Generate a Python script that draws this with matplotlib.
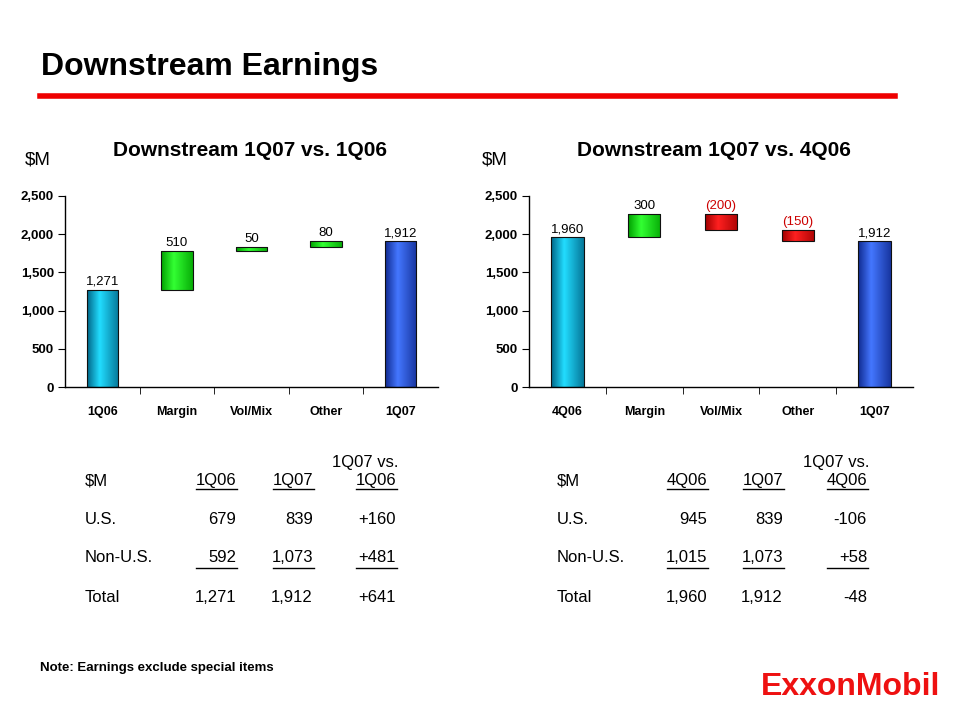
import numpy as np
import matplotlib
matplotlib.use("Agg")
import matplotlib.pyplot as plt
from matplotlib.lines import Line2D

plt.rcParams['font.family'] = ['Liberation Sans', 'DejaVu Sans']

# waterfall data ($M)
cats_l = ["1Q06", "Margin", "Vol/Mix", "Other", "1Q07"]
start_l = 1271
deltas_l = [510, 50, 80]
end_l = 1912

cats_r = ["4Q06", "Margin", "Vol/Mix", "Other", "1Q07"]
start_r = 1960
deltas_r = [300, -200, -150]
end_r = 1912

yticks = [0, 500, 1000, 1500, 2000, 2500]

# tables
tbl_rows = ["U.S.", "Non-U.S.", "Total"]
tbl_l_cols = ["1Q06", "1Q07", "1Q06"]
tbl_l_vals = [["679", "839", "+160"],
              ["592", "1,073", "+481"],
              ["1,271", "1,912", "+641"]]
tbl_r_cols = ["4Q06", "1Q07", "4Q06"]
tbl_r_vals = [["945", "839", "-106"],
              ["1,015", "1,073", "+58"],
              ["1,960", "1,912", "-48"]]

W, H = 960, 720
fig = plt.figure(figsize=(9.6, 7.2), dpi=100)


def fx(x):
    return x / W


def fy(y):
    return 1 - y / H


def shade(ax, patch, light, dark):
    # horizontal gradient to mimic the 3D bars
    t = np.linspace(0, 1, 64)
    k = np.interp(t, [0, 0.4, 1], [0, 1, 0.15])
    light = np.array(matplotlib.colors.to_rgb(light))
    dark = np.array(matplotlib.colors.to_rgb(dark))
    img = dark[None, :] + k[:, None] * (light - dark)[None, :]
    img = img[None, :, :]
    x0, y0 = patch.get_x(), patch.get_y()
    w, h = patch.get_width(), patch.get_height()
    im = ax.imshow(img, extent=(x0, x0 + w, y0, y0 + h), aspect='auto',
                   zorder=2, interpolation='bilinear')
    im.set_clip_path(patch)


def waterfall(ax, cats, start, deltas, end):
    x = np.arange(len(cats))
    bottoms, heights, cols = [0], [start], [("#22DDFF", "#006688")]
    run = start
    for d in deltas:
        if d >= 0:
            bottoms.append(run)
            heights.append(d)
            cols.append(("#33FF33", "#00A000"))
        else:
            bottoms.append(run + d)
            heights.append(-d)
            cols.append(("#FF2020", "#A00000"))
        run += d
    bottoms.append(0)
    heights.append(end)
    cols.append(("#4477FF", "#102A90"))
    bars = ax.bar(x, heights, bottom=bottoms, width=0.42,
                  color='none', edgecolor='#101010', linewidth=0.8, zorder=3)
    for p, (lc, dc) in zip(bars.patches, cols):
        shade(ax, p, lc, dc)
    labels = [f"{start:,}"] + [f"{d:,}" if d >= 0 else f"({-d:,})" for d in deltas] + [f"{end:,}"]
    for i, (b, h, lab) in enumerate(zip(bottoms, heights, labels)):
        neg = 0 < i < len(cats) - 1 and deltas[i - 1] < 0
        ax.text(i, b + h + 25, lab, ha='center', va='bottom', fontsize=9.5,
                color='#CC0000' if neg else 'black')
    ax.set_xlim(-0.5, len(cats) - 0.5)
    ax.set_ylim(0, 2500)
    ax.set_yticks(yticks)
    ax.set_yticklabels([f"{v:,}" for v in yticks], fontsize=9.5, fontweight='bold')
    ax.set_xticks(x)
    ax.set_xticklabels(cats, fontsize=9, fontweight='bold')
    ax.set_xticks(np.arange(0.5, len(cats) - 0.5), minor=True)
    ax.tick_params(axis='x', which='major', length=0, pad=14)
    ax.tick_params(axis='x', which='minor', length=5, direction='out')
    ax.tick_params(axis='y', length=5, direction='out', pad=3)
    for s in ['top', 'right']:
        ax.spines[s].set_visible(False)
    ax.spines['left'].set_linewidth(1)
    ax.spines['bottom'].set_linewidth(1)


ax1 = fig.add_axes([fx(65), fy(387), fx(373), 191 / H])
waterfall(ax1, cats_l, start_l, deltas_l, end_l)
ax2 = fig.add_axes([fx(529), fy(387), fx(384), 191 / H])
waterfall(ax2, cats_r, start_r, deltas_r, end_r)

# page title and red rule
fig.text(fx(41), fy(67), "Downstream Earnings", fontsize=23, fontweight='bold',
         va='center', ha='left')
fig.add_artist(Line2D([fx(40), fx(895)], [fy(95.5), fy(95.5)], color='#EE0000', linewidth=4))

# chart titles
fig.text(fx(250), fy(150), "Downstream 1Q07 vs. 1Q06", fontsize=15, fontweight='heavy',
         ha='center', va='center')
fig.text(fx(714), fy(150), "Downstream 1Q07 vs. 4Q06", fontsize=15, fontweight='heavy',
         ha='center', va='center')
fig.text(fx(25), fy(160), "$M", fontsize=13.5, ha='left', va='center')
fig.text(fx(482), fy(160), "$M", fontsize=13.5, ha='left', va='center')


def uline(x0, x1, y):
    fig.add_artist(Line2D([fx(x0), fx(x1)], [fy(y), fy(y)], color='black', linewidth=1))


def table(xlab, xcols, cols, vals, hdr_center):
    fs = 12
    fig.text(fx(xlab), fy(481), "$M", fontsize=fs, va='center', ha='left')
    fig.text(fx(hdr_center), fy(462), "1Q07 vs.", fontsize=fs, va='center', ha='center')
    for xc, c in zip(xcols, cols):
        fig.text(fx(xc), fy(481), c, fontsize=fs, va='center', ha='right')
    for xc in xcols:
        uline(xc - 40, xc + 1, 489)
    for r, (name, row) in enumerate(zip(tbl_rows, vals)):
        y = 519 + 39 * r
        fig.text(fx(xlab), fy(y), name, fontsize=fs, va='center', ha='left')
        for xc, v in zip(xcols, row):
            fig.text(fx(xc), fy(y), v, fontsize=fs, va='center', ha='right')
        if r == 1:
            for xc in xcols:
                uline(xc - 40, xc + 1, 568)


table(85, [236, 313, 396], tbl_l_cols, tbl_l_vals, 365)
table(557, [707, 783, 867], tbl_r_cols, tbl_r_vals, 836)

# footnote and logo
fig.text(fx(40), fy(668), "Note: Earnings exclude special items", fontsize=9.5, fontweight='bold',
         va='center', ha='left')
fig.text(fx(761), fy(687), "ExxonMobil", fontsize=23, fontweight='bold', color='#EE1111',
         va='center', ha='left')

fig.savefig("out.png", dpi=100)
